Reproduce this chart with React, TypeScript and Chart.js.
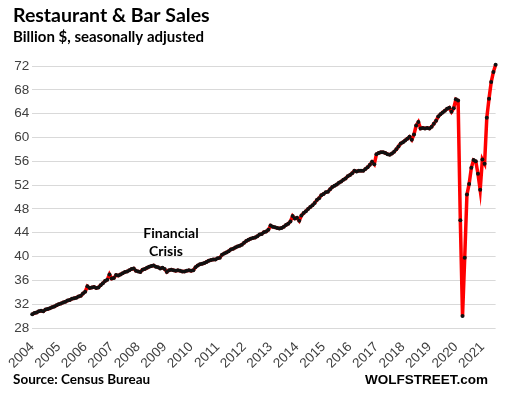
import React, { useEffect, useRef } from "react";
import { Chart, registerables } from "chart.js";

Chart.register(...registerables);

// Tick labels (one per January)
const yearLabels = [
  "2004", "2005", "2006", "2007", "2008", "2009", "2010", "2011", "2012",
  "2013", "2014", "2015", "2016", "2017", "2018", "2019", "2020", "2021",
];

// Monthly sales, billion $, seasonally adjusted
const v2004 = [30.3, 30.5, 30.6, 30.8, 30.9, 30.8, 31.1, 31.2, 31.3, 31.5, 31.6, 31.8];
const v2005 = [32.0, 32.1, 32.3, 32.4, 32.6, 32.7, 32.9, 33.0, 33.1, 33.3, 33.4, 33.8];
const v2006 = [34.1, 35.0, 34.7, 34.8, 34.9, 34.7, 34.8, 35.2, 35.5, 35.9, 36.1, 37.0];
const v2007 = [36.3, 36.4, 36.9, 36.8, 37.0, 37.2, 37.4, 37.5, 37.7, 37.9, 38.0, 37.6];
const v2008 = [37.5, 37.4, 37.8, 37.9, 38.1, 38.3, 38.4, 38.5, 38.3, 38.2, 38.0, 38.1];
const v2009 = [37.9, 37.4, 37.7, 37.8, 37.7, 37.6, 37.7, 37.6, 37.5, 37.5, 37.6, 37.7];
const v2010 = [37.6, 37.7, 38.2, 38.5, 38.7, 38.8, 38.9, 39.1, 39.3, 39.4, 39.5, 39.5];
const v2011 = [39.7, 39.8, 40.3, 40.5, 40.7, 40.9, 41.2, 41.3, 41.5, 41.7, 41.8, 42.0];
const v2012 = [42.3, 42.6, 42.8, 43.0, 43.1, 43.2, 43.4, 43.7, 43.8, 44.1, 44.2, 44.5];
const v2013 = [45.2, 45.0, 44.9, 44.8, 44.7, 44.8, 45.0, 45.3, 45.5, 45.9, 46.8, 46.4];
const v2014 = [46.5, 46.0, 46.9, 47.3, 47.6, 48.0, 48.3, 48.6, 49.0, 49.5, 49.8, 50.3];
const v2015 = [50.5, 50.8, 50.9, 51.3, 51.7, 51.9, 52.1, 52.4, 52.6, 52.9, 53.1, 53.5];
const v2016 = [53.7, 54.0, 54.4, 54.3, 54.4, 54.4, 54.4, 54.7, 55.0, 55.4, 55.9, 55.5];
const v2017 = [57.2, 57.4, 57.5, 57.5, 57.4, 57.2, 57.1, 57.3, 57.6, 58.0, 58.5, 59.0];
const v2018 = [59.2, 59.5, 59.8, 60.1, 59.6, 60.5, 62.0, 62.6, 61.5, 61.6, 61.5, 61.6];
const v2019 = [61.5, 61.8, 62.3, 62.8, 63.5, 63.9, 64.2, 64.5, 64.8, 65.0, 64.3, 64.9];
const v2020 = [66.4, 66.2, 46.1, 30.0, 39.8, 50.4, 52.2, 54.9, 56.2, 56.0, 53.9, 51.2];
const v2021 = [56.3, 55.6, 63.3, 66.5, 69.3, 71.0, 72.2];

const yMin = 28;
const yMax = 72;
const yStep = 4;

const titleText = "Restaurant & Bar Sales";
const subtitleText = "Billion $, seasonally adjusted";
const annotationLine1 = "Financial";
const annotationLine2 = "Crisis";
const sourceText = "Source: Census Bureau";
const brandText = "WOLFSTREET.com";

const seriesByYear = [
  v2004, v2005, v2006, v2007, v2008, v2009, v2010, v2011, v2012,
  v2013, v2014, v2015, v2016, v2017, v2018, v2019, v2020, v2021,
];
const sales = seriesByYear.flat();
const monthLabels = seriesByYear.flatMap((arr, yi) =>
  arr.map((_, mi) => `${yearLabels[yi]}-${mi + 1}`)
);

const textPlugin = {
  id: "wolfTexts",
  afterDraw(chart: any) {
    const ctx = chart.ctx as CanvasRenderingContext2D;
    ctx.save();
    ctx.fillStyle = "#000";
    ctx.textBaseline = "alphabetic";
    ctx.textAlign = "left";
    ctx.font = "bold 19.5px Lato";
    ctx.fillText(titleText, 13, 22);
    ctx.font = "bold 15px Lato";
    ctx.fillText(subtitleText, 13, 42);
    ctx.font = "bold 13.5px Lato";
    ctx.fillText(sourceText, 13, 384);
    ctx.font = "bold 14px Lato";
    ctx.textAlign = "center";
    ctx.fillText(annotationLine1, 171, 238);
    ctx.fillText(annotationLine2, 166, 256);
    ctx.textAlign = "right";
    ctx.font = "bold 13.5px 'Liberation Sans'";
    ctx.fillText(brandText, 488, 384);
    ctx.restore();
  },
};

export default function App() {
  const ref = useRef<HTMLCanvasElement | null>(null);
  useEffect(() => {
    if (!ref.current) return;
    const chart = new Chart(ref.current, {
      type: "line",
      data: {
        labels: monthLabels,
        datasets: [
          {
            data: sales,
            borderColor: "#ff0000",
            borderWidth: 3.5,
            pointRadius: 2,
            pointBackgroundColor: "#111",
            pointBorderColor: "#111",
            pointBorderWidth: 0,
            tension: 0,
            clip: 6,
          },
        ],
      },
      options: {
        animation: false,
        responsive: false,
        devicePixelRatio: 1,
        layout: { padding: { top: 66, right: 8, left: 0, bottom: 0 } },
        plugins: {
          legend: { display: false },
          tooltip: { enabled: false },
          title: { display: false },
        },
        scales: {
          x: {
            type: "category",
            grid: { display: false, drawTicks: false },
            border: { display: false },
            ticks: {
              autoSkip: false,
              maxRotation: 45,
              minRotation: 45,
              padding: 11,
              color: "#404040",
              font: { family: "Liberation Sans", size: 13.5 },
              callback: (_v: any, i: number) =>
                i % 12 === 0 ? yearLabels[i / 12] : null,
            },
            afterFit: (s: any) => {
              s.height = 66;
            },
          },
          y: {
            min: yMin,
            max: yMax,
            grid: { color: "#d9d9d9", drawTicks: false, lineWidth: 1 },
            border: { display: false },
            ticks: {
              stepSize: yStep,
              padding: 3,
              color: "#404040",
              font: { family: "Liberation Sans", size: 13.5 },
            },
            afterFit: (s: any) => {
              s.width = 30;
            },
          },
        },
      } as any,
      plugins: [textPlugin],
    });
    return () => chart.destroy();
  }, []);
  return (
    <canvas
      ref={ref}
      width={505}
      height={394}
      style={{ position: "fixed", left: 0, top: 0, width: 505, height: 394 }}
    />
  );
}
